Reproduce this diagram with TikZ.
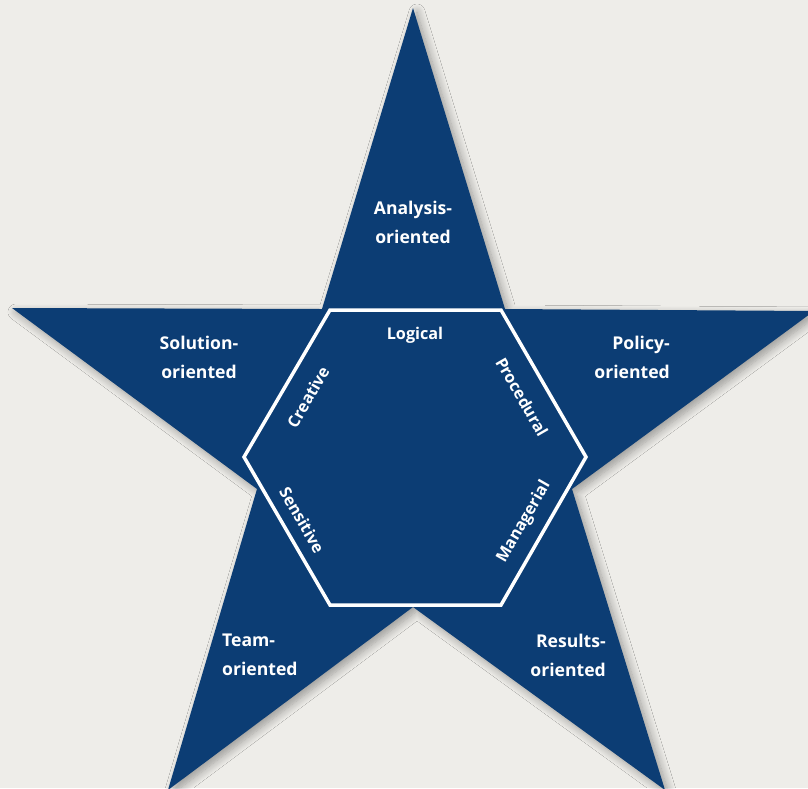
\documentclass[tikz,border=0pt]{standalone}
\usepackage{fontspec}
\setmainfont{Open Sans}
\usepackage{tikz}
\usetikzlibrary{shadows.blur}

\definecolor{starblue}{HTML}{0C3D74}
\definecolor{paper}{HTML}{EEEDE9}

\tikzset{
  outerlabel/.style={text=white, font=\bfseries\fontsize{17.6}{29}\selectfont, inner sep=0pt},
  hexlabel/.style={text=white, font=\bfseries\fontsize{16.2}{18}\selectfont, inner sep=0pt},
}

\begin{document}
\begin{tikzpicture}[x=1pt,y=-1pt]
	% Paper background
	\fill[paper] (0,0) rectangle (808,788);
	\useasboundingbox (0,0) rectangle (808,788);
	
	% Define the points of the star
	\coordinate (top)   at (413,8);
	\coordinate (inTR)  at (505,309);
	\coordinate (right) at (814,311);
	\coordinate (inR)   at (572,489);
	\coordinate (botR)  at (665,790);
	\coordinate (inB)   at (413,607);
	\coordinate (botL)  at (168,790);
	\coordinate (inL)   at (257,489);
	\coordinate (left)  at (12,308);
	\coordinate (inTL)  at (322,309);
	
	% Draw the star
	\fill[starblue, blur shadow={shadow xshift=4pt, shadow yshift=-4pt, shadow blur radius=8pt, shadow blur steps=10, shadow opacity=35}]
		(top) -- (inTR) -- (right) -- (inR) -- (botR) -- (inB) -- (botL) -- (inL) -- (left) -- (inTL) -- cycle;
	
	% Define the vertices of the hexagon
	\coordinate (h1) at (330,310);
	\coordinate (h2) at (501,310);
	\coordinate (h3) at (586,457);
	\coordinate (h4) at (501,605);
	\coordinate (h5) at (330,605);
	\coordinate (h6) at (244,457);
	
	% Draw the hexagon
	\draw[white, line width=3.5pt, line join=miter] (h1) -- (h2) -- (h3) -- (h4) -- (h5) -- (h6) -- cycle;
	
	% Labels of the points
	\node[outerlabel, align=center] (analysis) at (413,222) {Analysis-\\oriented};
	\node[outerlabel, align=center] (solution) at (199,357) {Solution-\\oriented};
	\node[outerlabel, align=right, anchor=east] (policy) at (670,357) {Policy-\\oriented};
	\node[outerlabel, align=left, anchor=west] (team) at (222,655) {Team-\\oriented};
	\node[outerlabel, align=right, anchor=east] (results) at (606,655) {Results-\\oriented};
	
	% Labels along the hexagon
	\node[hexlabel] (logical) at (415,335) {Logical};
	\node[hexlabel, rotate=60] (creative) at (308,397) {Creative};
	\node[hexlabel, rotate=-60] (procedural) at (522,397) {Procedural};
	\node[hexlabel, rotate=-60] (sensitive) at (302,520) {Sensitive};
	\node[hexlabel, rotate=60] (managerial) at (524,522) {Managerial};
\end{tikzpicture}
\end{document}
